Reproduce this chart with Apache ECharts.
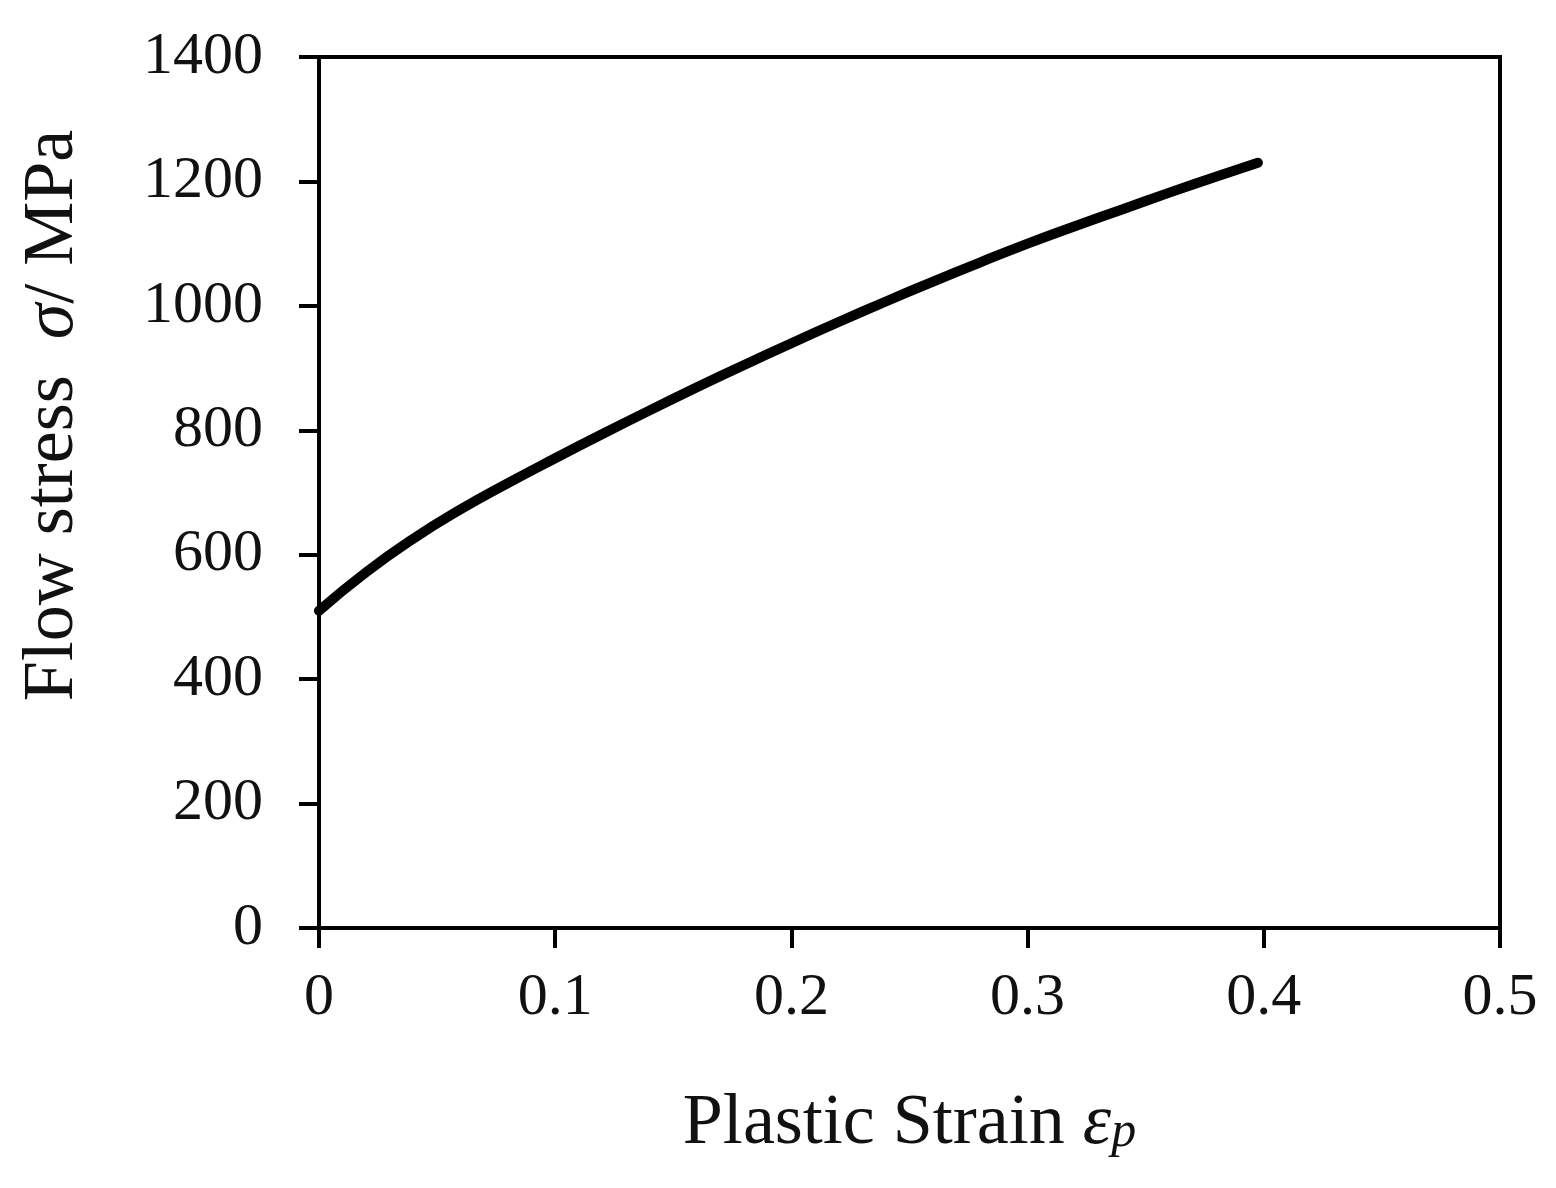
<!DOCTYPE html>
<html>
<head>
<meta charset="utf-8">
<script src="https://cdn.jsdelivr.net/npm/echarts@6/dist/echarts.min.js"></script>
<style>html,body{margin:0;padding:0;background:#fff;}#c{width:1556px;height:1188px;}</style>
</head>
<body>
<div id="c"></div>
<script>
const strain = [0, 0.02, 0.04, 0.06, 0.08, 0.10, 0.12, 0.14, 0.16, 0.18, 0.20, 0.22, 0.24, 0.26, 0.28, 0.30, 0.32, 0.34, 0.36, 0.38, 0.3975];
const stress = [510, 572, 626, 673, 715, 755, 794, 832, 869, 905, 940, 974, 1007, 1039, 1070, 1100, 1128, 1155, 1182, 1208, 1230];
const xTicks = [0, 0.1, 0.2, 0.3, 0.4, 0.5];
const yTicks = [0, 200, 400, 600, 800, 1000, 1200, 1400];

const font = 'Liberation Serif';
const chart = echarts.init(document.getElementById('c'), null, {renderer: 'canvas'});
chart.setOption({
  backgroundColor: '#fff',
  animation: false,
  grid: {left: 319, right: 56, top: 57, bottom: 260, show: true, borderColor: '#000', borderWidth: 4, backgroundColor: 'transparent'},
  xAxis: {
    type: 'value', min: xTicks[0], max: xTicks[xTicks.length - 1], interval: 0.1,
    axisLine: {show: true, onZero: false, lineStyle: {color: '#000', width: 4}},
    axisTick: {show: true, inside: false, length: 20, lineStyle: {color: '#000', width: 4}},
    splitLine: {show: false},
    axisLabel: {fontFamily: font, fontSize: 60, color: '#111', margin: 40, formatter: v => String(v)},
    name: '{n|Plastic Strain }{e|ε}{p|p}',
    nameLocation: 'middle', nameGap: 160,
    nameTextStyle: {
      fontFamily: font, fontSize: 72, color: '#111',
      rich: {
        n: {fontFamily: font, fontSize: 72, color: '#111'},
        e: {fontFamily: font, fontSize: 72, fontStyle: 'italic', color: '#111'},
        p: {fontFamily: font, fontSize: 50, fontStyle: 'italic', color: '#111', padding: [0, 0, -18, 0]}
      }
    }
  },
  yAxis: {
    type: 'value', min: yTicks[0], max: yTicks[yTicks.length - 1], interval: 200,
    axisLine: {show: true, onZero: false, lineStyle: {color: '#000', width: 4}},
    axisTick: {show: true, inside: false, length: 20, lineStyle: {color: '#000', width: 4}},
    splitLine: {show: false},
    axisLabel: {fontFamily: font, fontSize: 60, color: '#111', margin: 56, padding: [6, 0, 0, 0], formatter: v => String(v)},
    name: '{n|Flow stress  }{s|σ}{n|/ MPa}',
    nameLocation: 'middle', nameGap: 230, nameRotate: 90,
    nameTextStyle: {
      fontFamily: font, fontSize: 72, color: '#111', padding: [0, 0, 0, 154],
      rich: {
        n: {fontFamily: font, fontSize: 72, color: '#111'},
        s: {fontFamily: font, fontSize: 72, fontStyle: 'italic', color: '#111'}
      }
    }
  },
  series: [{
    type: 'line',
    data: strain.map((x, i) => [x, stress[i]]),
    smooth: true,
    showSymbol: false,
    lineStyle: {color: '#000', width: 10, cap: 'round'}
  }]
});
</script>
</body>
</html>
